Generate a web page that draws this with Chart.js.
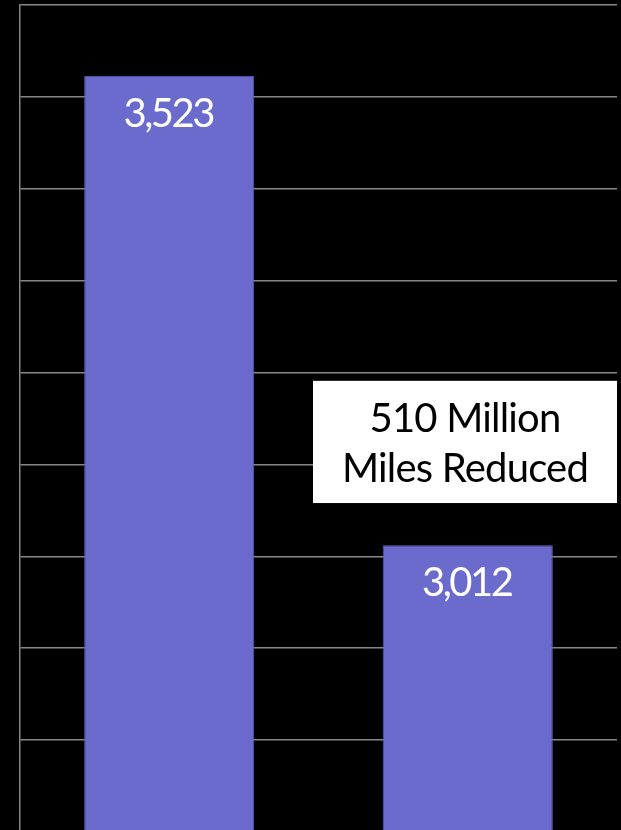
<!DOCTYPE html>
<html lang="en">
<head>
    <meta charset="UTF-8">
    <title>Miles Reduced</title>
    <style>
        body {
            margin: 0;
            padding: 0;
            background: #000;
            overflow: hidden;
        }
    </style>
</head>
<body>
    <canvas id="miles" width="621" height="835"></canvas>
    <script src="https://cdn.jsdelivr.net/npm/chart.js@4/dist/chart.umd.min.js"></script>
    <script>
        // vehicle miles, millions
        const categories = ['Before', 'After'];
        const miles = [3523, 3012];
        const noteLines = ['510 Million', 'Miles Reduced'];

        const barColor = '#6b6bcd';
        const gridColor = '#878787';

        // white value labels inside the top of each bar
        const valueLabels = {
            id: 'valueLabels',
            afterDatasetsDraw(chart) {
                const ctx = chart.ctx;
                const meta = chart.getDatasetMeta(0);
                ctx.save();
                ctx.fillStyle = '#fff';
                ctx.font = '40px Lato';
                ctx.letterSpacing = '-2.5px';
                ctx.textAlign = 'center';
                ctx.textBaseline = 'alphabetic';
                meta.data.forEach((bar, i) => {
                    ctx.fillText(miles[i].toLocaleString('en-US'), bar.x - 1, bar.y + 51);
                });
                ctx.restore();
            }
        };

        // callout box with the difference
        const noteBox = {
            id: 'noteBox',
            afterDraw(chart) {
                const ctx = chart.ctx;
                const y = chart.scales.y;
                const area = chart.chartArea;
                const left = area.right - 304;
                const top = y.getPixelForValue(3191);
                const bottom = y.getPixelForValue(3058);
                ctx.save();
                ctx.fillStyle = '#fff';
                ctx.fillRect(left, top, area.right - left, bottom - top);
                ctx.fillStyle = '#000';
                ctx.font = '40px Lato';
                ctx.letterSpacing = '-0.8px';
                ctx.textAlign = 'center';
                ctx.textBaseline = 'alphabetic';
                const cx = (left + area.right) / 2;
                ctx.fillText(noteLines[0], cx, top + 51);
                ctx.fillText(noteLines[1], cx, top + 101);
                ctx.restore();
            }
        };

        new Chart(document.getElementById('miles'), {
            type: 'bar',
            data: {
                labels: categories,
                datasets: [{
                    data: miles,
                    backgroundColor: barColor,
                    borderColor: '#5c5cb8',
                    borderWidth: 1,
                    barPercentage: 0.57,
                    categoryPercentage: 1
                }]
            },
            options: {
                responsive: false,
                animation: false,
                layout: {
                    padding: { left: 20, right: 4, top: 5, bottom: 3 }
                },
                plugins: {
                    legend: { display: false },
                    tooltip: { enabled: false }
                },
                scales: {
                    x: {
                        grid: { display: false, drawTicks: false },
                        ticks: { display: false },
                        border: { display: false }
                    },
                    y: {
                        min: 2700,
                        max: 3600,
                        ticks: { display: false, stepSize: 100 },
                        grid: { color: gridColor, lineWidth: 1.5, drawTicks: false, tickLength: 0 },
                        border: { display: true, color: gridColor, width: 1.5 }
                    }
                }
            },
            plugins: [valueLabels, noteBox]
        });
    </script>
</body>
</html>
